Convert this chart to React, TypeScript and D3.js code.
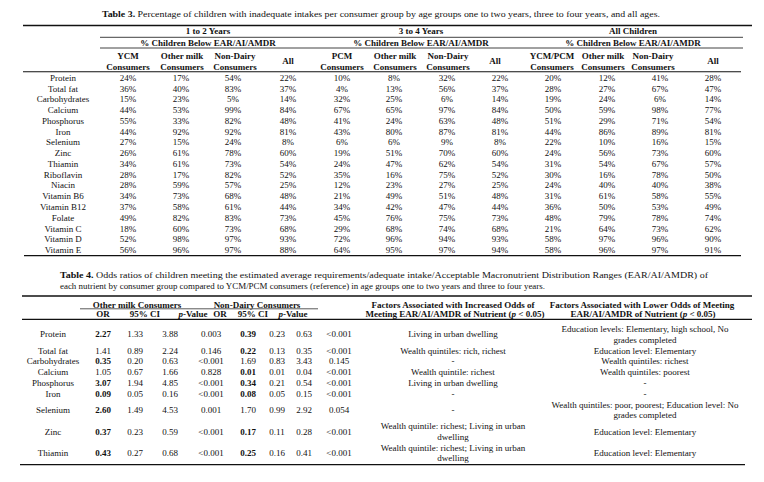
import React from 'react';
import * as d3 from 'd3';

// ---------- Table 3 data ----------
const nutrients3 = ['Protein', 'Total fat', 'Carbohydrates', 'Calcium', 'Phosphorus', 'Iron', 'Selenium', 'Zinc', 'Thiamin', 'Riboflavin', 'Niacin', 'Vitamin B6', 'Vitamin B12', 'Folate', 'Vitamin C', 'Vitamin D', 'Vitamin E'];
const age12Ycm = [24, 36, 15, 44, 55, 44, 27, 26, 34, 28, 28, 34, 37, 49, 18, 52, 56];
const age12Other = [17, 40, 23, 53, 33, 92, 15, 61, 61, 17, 59, 73, 58, 82, 60, 98, 96];
const age12NonDairy = [54, 83, 5, 99, 82, 92, 24, 78, 73, 82, 57, 68, 61, 83, 73, 97, 97];
const age12All = [22, 37, 14, 84, 48, 81, 8, 60, 54, 52, 25, 48, 44, 73, 68, 93, 88];
const age34Pcm = [10, 4, 32, 67, 41, 43, 6, 19, 24, 35, 12, 21, 34, 45, 29, 72, 64];
const age34Other = [8, 13, 25, 65, 24, 80, 6, 51, 47, 16, 23, 49, 42, 76, 68, 96, 95];
const age34NonDairy = [32, 56, 6, 97, 63, 87, 9, 70, 62, 75, 27, 51, 47, 75, 74, 94, 97];
const age34All = [22, 37, 14, 84, 48, 81, 8, 60, 54, 52, 25, 48, 44, 73, 68, 93, 94];
const allYcmPcm = [20, 28, 19, 50, 51, 44, 22, 24, 31, 30, 24, 31, 36, 48, 21, 58, 58];
const allOther = [12, 27, 24, 59, 29, 86, 10, 56, 54, 16, 40, 61, 50, 79, 64, 97, 96];
const allNonDairy = [41, 67, 6, 98, 71, 89, 16, 73, 67, 78, 40, 58, 53, 78, 73, 96, 97];
const allAll = [28, 47, 14, 77, 54, 81, 15, 60, 57, 50, 38, 55, 49, 74, 62, 90, 91];

const ageGroups3 = ['1 to 2 Years', '3 to 4 Years', 'All Children'];
const subHeader3 = '% Children Below EAR/AI/AMDR';
const colHeads3 = [
  ['YCM', 'Consumers'], ['Other milk', 'Consumers'], ['Non-Dairy', 'Consumers'], ['All'],
  ['PCM', 'Consumers'], ['Other milk', 'Consumers'], ['Non-Dairy', 'Consumers'], ['All'],
  ['YCM/PCM', 'Consumers'], ['Other milk', 'Consumers'], ['Non-Dairy', 'Consumers'], ['All'],
];
const series3 = [age12Ycm, age12Other, age12NonDairy, age12All, age34Pcm, age34Other, age34NonDairy, age34All, allYcmPcm, allOther, allNonDairy, allAll];

// ---------- Table 4 data ----------
const nutrients4 = ['Protein', 'Total fat', 'Carbohydrates', 'Calcium', 'Phosphorus', 'Iron', 'Selenium', 'Zinc', 'Thiamin'];
const otherOR = ['2.27', '1.41', '0.35', '1.05', '3.07', '0.09', '2.60', '0.37', '0.43'];
const otherLo = ['1.33', '0.89', '0.20', '0.67', '1.94', '0.05', '1.49', '0.23', '0.27'];
const otherHi = ['3.88', '2.24', '0.63', '1.66', '4.85', '0.16', '4.53', '0.59', '0.68'];
const otherP = ['0.003', '0.146', '<0.001', '0.828', '<0.001', '<0.001', '0.001', '<0.001', '<0.001'];
const nonDairyOR = ['0.39', '0.22', '1.69', '0.01', '0.34', '0.08', '1.70', '0.17', '0.25'];
const nonDairyLo = ['0.23', '0.13', '0.83', '0.01', '0.21', '0.05', '0.99', '0.11', '0.16'];
const nonDairyHi = ['0.63', '0.35', '3.43', '0.04', '0.54', '0.15', '2.92', '0.28', '0.41'];
const nonDairyP = ['<0.001', '<0.001', '0.145', '<0.001', '<0.001', '<0.001', '0.054', '<0.001', '<0.001'];
const increasedFactors = [
  ['Living in urban dwelling'],
  ['Wealth quintiles: rich, richest'],
  ['-'],
  ['Wealth quintile: richest'],
  ['Living in urban dwelling'],
  ['-'],
  ['-'],
  ['Wealth quintile: richest; Living in urban', 'dwelling'],
  ['Wealth quintile: richest; Living in urban', 'dwelling'],
];
const lowerFactors = [
  ['Education levels: Elementary, high school, No', 'grades completed'],
  ['Education level: Elementary'],
  ['Wealth quintiles: richest'],
  ['Wealth quintiles: poorest'],
  ['-'],
  ['-'],
  ['Wealth quintiles: poor, poorest; Education level: No', 'grades completed'],
  ['Education level: Elementary'],
  ['Education level: Elementary'],
];
const groups4 = ['Other milk Consumers', 'Non-Dairy Consumers'];

// ---------- layout ----------
const W = 764;
const H = 482;
const FONT = "'Liberation Serif', 'Times New Roman', serif";
const INK = '#111';
const FS = 9;

const col3X = d3.scaleOrdinal<number, number>().domain(d3.range(12)).range([128, 181, 233, 288, 342, 394, 447, 500, 553, 607, 660, 713]);
const head3X = d3.scaleOrdinal<number, number>().domain(d3.range(12)).range([128, 182, 235, 288, 342, 395, 448, 495, 552, 603, 653, 713]);
const group3X = d3.scaleOrdinal<number, number>().domain([0, 1, 2]).range([208, 421, 633]);
const row3 = d3.scaleBand<string>().domain(nutrients3).range([72.3, 255.3]);

const col4X = [103, 135, 170, 211, 248, 277, 304, 339];
const head4X = [103, 145, 193, 220, 253, 293];
const group4X = [137, 257];
const LINE4 = 10.8;
const rowLines4 = nutrients4.map((_, i) => Math.max(increasedFactors[i].length, lowerFactors[i].length));
const rowTops4 = [323.5, ...d3.cumsum(rowLines4.map((n) => n * LINE4)).map((v) => 323.5 + v)];

const T = (props: any) => (
  <text fontFamily={FONT} fontSize={FS} fill={INK} textAnchor="middle" dy="0.35em" {...props} />
);

const isSig = (p: string) => p.startsWith('<') || parseFloat(p) < 0.05;

export default function App() {
  const rows4 = nutrients4.map((n, i) => {
    const cy = (rowTops4[i] + rowTops4[i + 1]) / 2;
    const cells = [otherOR[i], otherLo[i], otherHi[i], otherP[i], nonDairyOR[i], nonDairyLo[i], nonDairyHi[i], nonDairyP[i]];
    return { n, i, cy, cells };
  });
  const multi = (lines: string[], cy: number) => {
    const off = ((lines.length - 1) * 10.4) / 2;
    return lines.map((l, k) => ({ l, y: cy - off + k * 10.4 }));
  };

  return (
    <svg width={W} height={H} style={{ position: 'absolute', left: 0, top: 0, background: '#fff' }}>
      <rect width={W} height={H} fill="#fff" />
      {/* ---------------- Table 3 ---------------- */}
      <T x={381} y={14} textLength={558} lengthAdjust="spacingAndGlyphs">
        <tspan fontWeight="bold">Table 3.</tspan> Percentage of children with inadequate intakes per consumer group by age groups one to two years, three to four years, and all ages.
      </T>
      <line x1={23} x2={752} y1={25.5} y2={25.5} stroke={INK} strokeWidth={1.3} />
      {ageGroups3.map((g, i) => (
        <T key={g} x={group3X(i)} y={31} fontWeight="bold">{g}</T>
      ))}
      <line x1={100} x2={743} y1={37.3} y2={37.3} stroke={INK} strokeWidth={0.8} />
      {ageGroups3.map((g, i) => (
        <T key={'s' + g} x={group3X(i)} y={42.6} fontWeight="bold">{subHeader3}</T>
      ))}
      <line x1={100} x2={743} y1={48} y2={48} stroke={INK} strokeWidth={0.8} />
      {colHeads3.map((h, i) =>
        h.length === 1 ? (
          <T key={'h' + i} x={head3X(i)} y={60.8} fontWeight="bold">{h[0]}</T>
        ) : (
          <g key={'h' + i}>
            <T x={head3X(i)} y={55.8} fontWeight="bold">{h[0]}</T>
            <T x={head3X(i)} y={66.6} fontWeight="bold">{h[1]}</T>
          </g>
        )
      )}
      <line x1={23} x2={741} y1={71.8} y2={71.8} stroke={INK} strokeWidth={1.1} />
      {nutrients3.map((n, r) => {
        const cy = (row3(n) as number) + row3.bandwidth() / 2;
        return (
          <g key={n}>
            <T x={63} y={cy}>{n}</T>
            {series3.map((s, c) => (
              <T key={c} x={col3X(c)} y={cy}>{`${s[r]}%`}</T>
            ))}
          </g>
        );
      })}
      <line x1={24} x2={741} y1={255.6} y2={255.6} stroke={INK} strokeWidth={1.3} />

      {/* ---------------- Table 4 ---------------- */}
      <T x={60} y={275} textAnchor="start" textLength={648} lengthAdjust="spacingAndGlyphs">
        <tspan fontWeight="bold">Table 4.</tspan> Odds ratios of children meeting the estimated average requirements/adequate intake/Acceptable Macronutrient Distribution Ranges (EAR/AI/AMDR) of
      </T>
      <T x={60} y={285.6} textAnchor="start" textLength={485} lengthAdjust="spacingAndGlyphs">
        each nutrient by consumer group compared to YCM/PCM consumers (reference) in age groups one to two years and three to four years.
      </T>
      <line x1={22} x2={752} y1={296} y2={296} stroke={INK} strokeWidth={1.3} />
      {groups4.map((g, i) => (
        <T key={g} x={group4X[i]} y={304.6} fontWeight="bold">{g}</T>
      ))}
      <line x1={80} x2={318} y1={308.8} y2={308.8} stroke={INK} strokeWidth={0.7} />
      {head4X.map((x, i) => {
        const k = i % 3;
        return (
          <T key={'h4' + i} x={x} y={313.8} fontWeight="bold">
            {k === 0 ? 'OR' : k === 1 ? '95% CI' : (<><tspan fontStyle="italic">p</tspan>-Value</>)}
          </T>
        );
      })}
      <T x={453} y={304.6} fontWeight="bold">Factors Associated with Increased Odds of</T>
      <T x={455} y={313.8} fontWeight="bold">Meeting EAR/AI/AMDR of Nutrient (<tspan fontStyle="italic">p</tspan> &lt; 0.05)</T>
      <T x={642} y={304.6} fontWeight="bold">Factors Associated with Lower Odds of Meeting</T>
      <T x={643} y={313.8} fontWeight="bold">EAR/AI/AMDR of Nutrient (<tspan fontStyle="italic">p</tspan> &lt; 0.05)</T>
      <line x1={22} x2={752} y1={319.4} y2={319.4} stroke={INK} strokeWidth={1.1} />
      {rows4.map(({ n, i, cy, cells }) => (
        <g key={n}>
          <T x={53} y={cy}>{n}</T>
          {cells.map((c, k) => {
            const bold = (k === 0 && isSig(otherP[i])) || (k === 4 && isSig(nonDairyP[i]));
            return (
              <T key={k} x={col4X[k]} y={cy} fontWeight={bold ? 'bold' : 'normal'}>{c}</T>
            );
          })}
          {multi(increasedFactors[i], cy).map((o, k) => (
            <T key={'a' + k} x={453} y={o.y}>{o.l}</T>
          ))}
          {multi(lowerFactors[i], cy).map((o, k) => (
            <T key={'b' + k} x={645} y={o.y}>{o.l}</T>
          ))}
        </g>
      ))}
      <line x1={20} x2={745} y1={464.7} y2={464.7} stroke={INK} strokeWidth={1.3} />
    </svg>
  );
}
